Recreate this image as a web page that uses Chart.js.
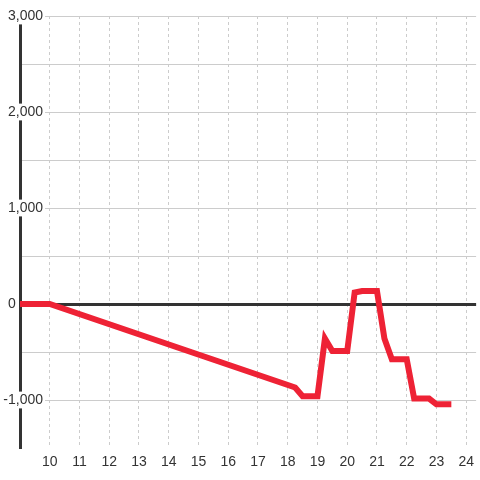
<!DOCTYPE html>
<html>
<head>
<meta charset="utf-8">
<script src="https://cdn.jsdelivr.net/npm/chart.js@4/dist/chart.umd.min.js"></script>
<style>
  html, body { margin: 0; padding: 0; background: #fff; }
  #wrap { width: 480px; height: 480px; }
</style>
</head>
<body>
<div id="wrap"><canvas id="chart" width="480" height="480"></canvas></div>
<script>
// time of day (hours) and running value
const hours  = [9, 10, 18.25, 18.5, 19, 19.25, 19.5, 20, 20.25, 20.5, 21, 21.25, 21.5, 22, 22.25, 22.75, 23, 23.5];
const values = [0, 0, -870, -960, -960, -360, -490, -490, 120, 135, 135, -360, -575, -575, -985, -985, -1045, -1045];

const xMin = 9, xMax = 24.333, xStep = 1;
const yMin = -1500, yMax = 3000, yStep = 500;
const labelStep = 1000;

const points = hours.map((h, i) => ({ x: h, y: values[i] }));
const textColor = '#333';
const gridColor = '#cccccc';

new Chart(document.getElementById('chart'), {
  type: 'line',
  data: {
    datasets: [{
      data: points,
      borderColor: '#ee2235',
      borderWidth: 6,
      pointRadius: 0,
      tension: 0,
      fill: false
    }]
  },
  options: {
    responsive: false,
    animation: false,
    layout: { padding: { top: 16, right: 0, left: 0, bottom: 0 } },
    plugins: { legend: { display: false }, tooltip: { enabled: false } },
    scales: {
      x: {
        type: 'linear',
        min: xMin,
        max: xMax,
        afterFit: s => { s.height = 32; },
        border: { display: false, dash: [3, 3] },
        grid: {
          drawTicks: false,
          color: c => c.tick && c.tick.value === xMin ? 'rgba(0,0,0,0)' : gridColor,
          lineWidth: 1
        },
        ticks: {
          stepSize: xStep,
          includeBounds: false,
          padding: 6,
          color: textColor,
          font: { family: 'Liberation Sans, Arial, sans-serif', size: 14 },
          callback: v => v === xMin ? '' : String(v)
        }
      },
      y: {
        min: yMin,
        max: yMax,
        afterFit: s => {
          s.width = 20;
          // labels overhang into the plot, so don't clip them to the axis box
          s._computeLabelArea = () => undefined;
        },
        border: { display: true, color: '#333', width: 3 },
        grid: {
          drawTicks: false,
          color: c => {
            if (!c.tick) return gridColor;
            if (c.tick.value === 0) return '#333';
            if (c.tick.value === yMin) return 'rgba(0,0,0,0)';
            return gridColor;
          },
          lineWidth: c => c.tick && c.tick.value === 0 ? 3 : 1
        },
        ticks: {
          stepSize: yStep,
          includeBounds: false,
          padding: -23,
          color: textColor,
          font: { family: 'Liberation Sans, Arial, sans-serif', size: 14 },
          showLabelBackdrop: true,
          backdropPadding: { top: 0, bottom: 0, left: 2, right: 2 },
          backdropColor: c => (c.tick && c.tick.value % labelStep === 0 && c.tick.value !== 0) ? '#ffffff' : 'rgba(0,0,0,0)',
          callback: v => {
            if (v % labelStep !== 0) return '';
            if (v === 0) return '0       ';
            return v.toLocaleString('en-US');
          }
        }
      }
    }
  }
});
</script>
</body>
</html>
